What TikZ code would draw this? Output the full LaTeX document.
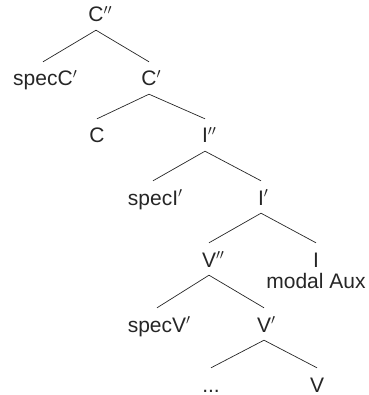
\documentclass[tikz,border=0pt]{standalone}
\usepackage{fontspec}
\setmainfont{Liberation Sans}
\usepackage{tikz}
% bar levels: the prime sticks out to the right and takes no width
\newcommand{\onebar}{\rlap{$'$}}
\newcommand{\twobar}{\rlap{$''$}}

\begin{document}
\begin{tikzpicture}[
  x=1pt, y=-1pt,
  cat/.style={anchor=base, font=\fontsize{21}{24}\selectfont, text=black!85,
    text height=20pt, text depth=4pt, inner xsep=0pt, inner ysep=4pt},
  branch/.style={line width=0.7pt, draw=black!85}
]
  \useasboundingbox (0,0) rectangle (368,395);

  \node[cat] (cpp) at (96,22) {C\twobar};
  \node[cat] (specc) at (43,86) {specC\onebar};
  \node[cat] (cp) at (149,86) {C\onebar};
  \node[cat] (c) at (97,143) {C};
  \node[cat] (ipp) at (205,143) {I\twobar};
  \node[cat] (speci) at (153,205) {specI\onebar};
  \node[cat] (ip) at (261,205) {I\onebar};
  \node[cat] (vpp) at (209,267) {V\twobar};
  \node[cat] (infl) at (316,267) {I};
  \node[cat] (aux) at (316,288) {modal Aux};
  \node[cat] (specv) at (157,332) {specV\onebar};
  \node[cat] (vp) at (264,332) {V\onebar};
  \node[cat] (dots) at (211,392) {...};
  \node[cat] (v) at (317,392) {V};

  \draw[branch] (specc.north) -- (cpp.south) -- (cp.north);
  \draw[branch] (c.north) -- (cp.south) -- (ipp.north);
  \draw[branch] (speci.north) -- (ipp.south) -- (ip.north);
  \draw[branch] (vpp.north) -- (ip.south) -- (infl.north);
  \draw[branch] (specv.north) -- (vpp.south) -- (vp.north);
  \draw[branch] (dots.north) -- (vp.south) -- (v.north);
\end{tikzpicture}
\end{document}
